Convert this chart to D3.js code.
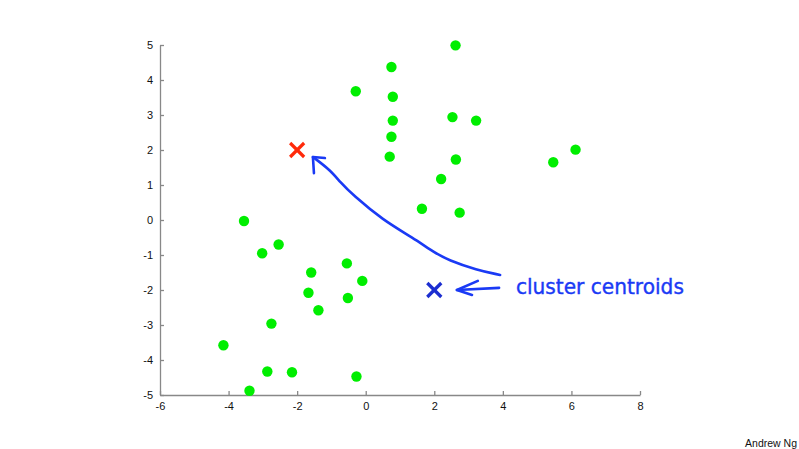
<!DOCTYPE html>
<html><head><meta charset="utf-8">
<script src="https://cdn.jsdelivr.net/npm/d3@7"></script>
<style>body{margin:0;background:#fff}svg{display:block}</style>
</head><body>
<svg id="c" width="799" height="449"></svg>
<script>
const xTicks = [-6,-4,-2,0,2,4,6,8];
const yTicks = [-5,-4,-3,-2,-1,0,1,2,3,4,5];
const pointsX = [-3.55,-3.02,-2.54,-1.59,-0.55,-0.10,-1.67,-0.52,-1.38,-2.75,-4.15,-2.87,-2.15,-3.39,-0.27,
                 -0.29,2.62,0.75,0.79,0.79,0.75,0.70,2.53,3.22,2.63,2.20,1.64,2.74,5.47,6.12];
const pointsY = [-0.03,-0.95,-0.70,-1.50,-1.24,-1.74,-2.08,-2.23,-2.58,-2.96,-3.58,-4.33,-4.35,-4.88,-4.47,
                 3.68,4.99,4.37,3.52,2.84,2.38,1.81,2.94,2.84,1.73,1.17,0.32,0.21,1.65,2.01];
const centroidX = [-2, 2];
const centroidY = [2, -2];
const centroidColors = ["#ff2a0a", "#1c2ed0"];
const curveX = [3.92,3.24,2.40,2.02,1.38,0.50,-0.37,-0.75,-1.04,-1.54];
const curveY = [-1.57,-1.43,-1.14,-0.94,-0.51,0.0,0.71,1.09,1.43,1.80];
const curveHeadX = [-1.19,-1.54,-1.51];
const curveHeadY = [1.77,1.80,1.34];
const arrowX = [3.89,2.66];
const arrowY = [-1.94,-2.0];
const arrowHeadX = [3.27,2.66,3.10];
const arrowHeadY = [-1.74,-2.0,-2.14];
const labelText = "cluster centroids";
const labelPos = [4.38,-2.12];

const svg = d3.select("#c");
const x = d3.scaleLinear().domain([-6,8]).range([160,640]);
const y = d3.scaleLinear().domain([-5,5]).range([395,45]);
const fmt = d => String(d);

const ax = svg.append("g").attr("transform","translate(0,395)")
  .call(d3.axisBottom(x).tickValues(xTicks).tickFormat(fmt).tickSizeInner(-4).tickSizeOuter(0).tickPadding(7));
const ay = svg.append("g").attr("transform","translate(160,0)")
  .call(d3.axisLeft(y).tickValues(yTicks).tickFormat(fmt).tickSizeInner(-4).tickSizeOuter(0).tickPadding(7));
[ax,ay].forEach(g=>{
  g.selectAll("path,line").attr("stroke","#888").attr("stroke-width",1.3);
  g.selectAll("text").attr("font-family","Liberation Sans, Arial, sans-serif").attr("font-size",11).attr("fill","#111");
});

svg.append("g").selectAll("circle").data(pointsX).join("circle")
  .attr("cx",(d)=>x(d)).attr("cy",(d,i)=>y(pointsY[i])).attr("r",5.2).attr("fill","#00ee00");

const s = 7;
centroidX.forEach((cx,i)=>{
  const px = x(cx), py = y(centroidY[i]);
  const g = svg.append("g").attr("stroke",centroidColors[i]).attr("stroke-width",3.2).attr("stroke-linecap","butt");
  g.append("line").attr("x1",px-s).attr("y1",py-s).attr("x2",px+s).attr("y2",py+s);
  g.append("line").attr("x1",px-s).attr("y1",py+s).attr("x2",px+s).attr("y2",py-s);
});

const blue = "#1a3af5";
const line = d3.line().x(d=>x(d[0])).y(d=>y(d[1]));
const curved = d3.line().x(d=>x(d[0])).y(d=>y(d[1])).curve(d3.curveBasis);
const ann = svg.append("g").attr("fill","none").attr("stroke",blue).attr("stroke-width",2.6)
  .attr("stroke-linecap","round").attr("stroke-linejoin","round");
ann.append("path").attr("d",curved(curveX.map((v,i)=>[v,curveY[i]])));
ann.append("path").attr("d",line(curveHeadX.map((v,i)=>[v,curveHeadY[i]])));
ann.append("path").attr("d",line(arrowX.map((v,i)=>[v,arrowY[i]])));
ann.append("path").attr("d",line(arrowHeadX.map((v,i)=>[v,arrowHeadY[i]])));

svg.append("text").attr("x",x(labelPos[0])).attr("y",y(labelPos[1]))
  .attr("font-family","DejaVu Sans, sans-serif").attr("font-size",21)
  .attr("textLength",168).attr("lengthAdjust","spacingAndGlyphs")
  .attr("fill",blue).attr("stroke",blue).attr("stroke-width",0.4).text(labelText);

svg.append("text").attr("x",797).attr("y",447).attr("text-anchor","end")
  .attr("font-family","Liberation Sans, Arial, sans-serif").attr("font-size",10.5)
  .attr("fill","#111").text("Andrew Ng");
</script>
</body></html>
